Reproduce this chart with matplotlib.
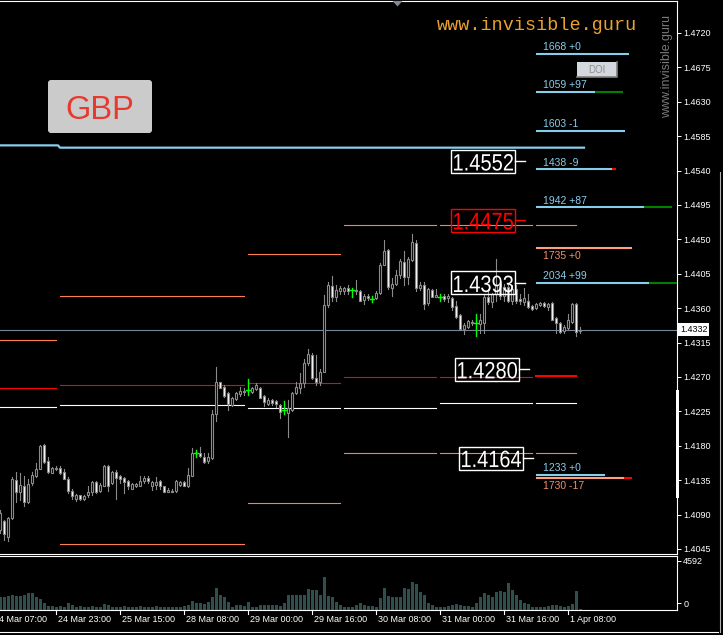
import matplotlib
matplotlib.use("Agg")
import matplotlib.pyplot as plt
from matplotlib.patches import Rectangle, FancyBboxPatch, Polygon, PathPatch
from matplotlib.lines import Line2D
from matplotlib.textpath import TextPath
from matplotlib.font_manager import FontProperties
from matplotlib.transforms import IdentityTransform, Affine2D
import numpy as np

plt.rcParams['font.family'] = ['Liberation Sans', 'DejaVu Sans']

# GBPUSD H1 bars, bar 0 = first (half visible) bar at the left edge
opens = [1.4070, 1.4081, 1.4061, 1.4085, 1.4135, 1.4120, 1.4128, 1.4106, 1.4131, 1.4140,
         1.4150, 1.4181, 1.4160, 1.4145, 1.4150, 1.4151, 1.4146, 1.4137, 1.4121, 1.4111,
         1.4115, 1.4111, 1.4115, 1.4120, 1.4132, 1.4121, 1.4128, 1.4154, 1.4131, 1.4146,
         1.4141, 1.4138, 1.4134, 1.4124, 1.4127, 1.4128, 1.4134, 1.4138, 1.4128, 1.4129,
         1.4134, 1.4127, 1.4120, 1.4121, 1.4121, 1.4129, 1.4133, 1.4127, 1.4141, 1.4171,
         1.4170, 1.4166, 1.4160, 1.4164, 1.4222, 1.4263, 1.4257, 1.4249, 1.4233, 1.4241,
         1.4248, 1.4252, 1.4253, 1.4250, 1.4254, 1.4256, 1.4245, 1.4235, 1.4240, 1.4239,
         1.4233, 1.4227, 1.4223, 1.4227, 1.4249, 1.4255, 1.4262, 1.4288, 1.4299, 1.4269,
         1.4264, 1.4277, 1.4364, 1.4389, 1.4374, 1.4382, 1.4383, 1.4387, 1.4384, 1.4382,
         1.4383, 1.4371, 1.4376, 1.4372, 1.4373, 1.4380, 1.4417, 1.4436, 1.4387, 1.4392,
         1.4404, 1.4420, 1.4401, 1.4423, 1.4445, 1.4386, 1.4391, 1.4367, 1.4384, 1.4375,
         1.4375, 1.4376, 1.4373, 1.4373, 1.4363, 1.4351, 1.4333, 1.4336, 1.4342, 1.4341,
         1.4339, 1.4341, 1.4375, 1.4368, 1.4378, 1.4390, 1.4376, 1.4388, 1.4370, 1.4385,
         1.4372, 1.4368, 1.4369, 1.4363, 1.4360, 1.4364, 1.4367, 1.4362, 1.4367, 1.4347,
         1.4341, 1.4330, 1.4334, 1.4342, 1.4365, 1.4330]
highs = [1.4096, 1.4083, 1.4087, 1.4139, 1.4146, 1.4144, 1.4140, 1.4137, 1.4146, 1.4157,
         1.4181, 1.4182, 1.4165, 1.4152, 1.4154, 1.4153, 1.4150, 1.4139, 1.4124, 1.4117,
         1.4116, 1.4116, 1.4128, 1.4134, 1.4134, 1.4131, 1.4155, 1.4155, 1.4147, 1.4148,
         1.4142, 1.4139, 1.4135, 1.4131, 1.4131, 1.4141, 1.4140, 1.4140, 1.4134, 1.4139,
         1.4135, 1.4128, 1.4125, 1.4123, 1.4135, 1.4134, 1.4134, 1.4151, 1.4177, 1.4174,
         1.4178, 1.4170, 1.4171, 1.4227, 1.4283, 1.4264, 1.4259, 1.4250, 1.4244, 1.4250,
         1.4257, 1.4255, 1.4267, 1.4257, 1.4262, 1.4257, 1.4246, 1.4242, 1.4241, 1.4240,
         1.4235, 1.4239, 1.4240, 1.4250, 1.4264, 1.4275, 1.4294, 1.4306, 1.4301, 1.4299,
         1.4281, 1.4377, 1.4394, 1.4402, 1.4390, 1.4389, 1.4388, 1.4390, 1.4387, 1.4397,
         1.4384, 1.4378, 1.4379, 1.4376, 1.4382, 1.4419, 1.4449, 1.4437, 1.4399, 1.4410,
         1.4425, 1.4435, 1.4427, 1.4457, 1.4449, 1.4394, 1.4394, 1.4387, 1.4385, 1.4385,
         1.4379, 1.4378, 1.4379, 1.4375, 1.4369, 1.4353, 1.4340, 1.4345, 1.4345, 1.4352,
         1.4353, 1.4377, 1.4385, 1.4380, 1.4425, 1.4396, 1.4392, 1.4393, 1.4390, 1.4390,
         1.4378, 1.4386, 1.4379, 1.4364, 1.4367, 1.4368, 1.4368, 1.4367, 1.4368, 1.4349,
         1.4342, 1.4338, 1.4353, 1.4367, 1.4367, 1.4335]
lows = [1.4066, 1.4057, 1.4056, 1.4084, 1.4107, 1.4109, 1.4101, 1.4105, 1.4129, 1.4139,
        1.4149, 1.4158, 1.4144, 1.4144, 1.4148, 1.4143, 1.4136, 1.4118, 1.4111, 1.4108,
        1.4109, 1.4109, 1.4113, 1.4115, 1.4118, 1.4120, 1.4127, 1.4121, 1.4130, 1.4111,
        1.4131, 1.4118, 1.4124, 1.4123, 1.4126, 1.4127, 1.4131, 1.4131, 1.4122, 1.4124,
        1.4123, 1.4119, 1.4119, 1.4119, 1.4120, 1.4128, 1.4127, 1.4126, 1.4140, 1.4166,
        1.4166, 1.4157, 1.4157, 1.4163, 1.4213, 1.4255, 1.4244, 1.4227, 1.4232, 1.4240,
        1.4245, 1.4246, 1.4246, 1.4249, 1.4253, 1.4242, 1.4232, 1.4234, 1.4234, 1.4231,
        1.4216, 1.4222, 1.4192, 1.4226, 1.4248, 1.4249, 1.4257, 1.4286, 1.4268, 1.4259,
        1.4259, 1.4276, 1.4362, 1.4369, 1.4369, 1.4379, 1.4379, 1.4379, 1.4375, 1.4379,
        1.4369, 1.4366, 1.4371, 1.4368, 1.4372, 1.4378, 1.4416, 1.4385, 1.4376, 1.4390,
        1.4400, 1.4391, 1.4392, 1.4422, 1.4382, 1.4384, 1.4359, 1.4364, 1.4374, 1.4374,
        1.4369, 1.4369, 1.4368, 1.4358, 1.4347, 1.4331, 1.4326, 1.4334, 1.4338, 1.4324,
        1.4328, 1.4327, 1.4365, 1.4362, 1.4370, 1.4372, 1.4370, 1.4368, 1.4365, 1.4367,
        1.4366, 1.4364, 1.4360, 1.4358, 1.4359, 1.4363, 1.4362, 1.4357, 1.4344, 1.4328,
        1.4327, 1.4327, 1.4331, 1.4341, 1.4323, 1.4328]
closes = [1.4092, 1.4064, 1.4086, 1.4136, 1.4119, 1.4129, 1.4106, 1.4130, 1.4142, 1.4150,
          1.4180, 1.4159, 1.4146, 1.4151, 1.4151, 1.4145, 1.4137, 1.4121, 1.4114, 1.4115,
          1.4110, 1.4114, 1.4120, 1.4133, 1.4120, 1.4129, 1.4154, 1.4128, 1.4146, 1.4138,
          1.4136, 1.4132, 1.4127, 1.4130, 1.4130, 1.4134, 1.4138, 1.4134, 1.4132, 1.4133,
          1.4127, 1.4120, 1.4122, 1.4120, 1.4134, 1.4133, 1.4128, 1.4142, 1.4170, 1.4171,
          1.4167, 1.4159, 1.4165, 1.4222, 1.4263, 1.4256, 1.4245, 1.4235, 1.4242, 1.4249,
          1.4252, 1.4251, 1.4253, 1.4256, 1.4259, 1.4243, 1.4237, 1.4240, 1.4236, 1.4235,
          1.4224, 1.4227, 1.4229, 1.4249, 1.4257, 1.4262, 1.4288, 1.4300, 1.4269, 1.4264,
          1.4277, 1.4364, 1.4390, 1.4375, 1.4384, 1.4386, 1.4386, 1.4383, 1.4384, 1.4384,
          1.4370, 1.4376, 1.4373, 1.4372, 1.4380, 1.4417, 1.4435, 1.4388, 1.4392, 1.4404,
          1.4422, 1.4401, 1.4425, 1.4446, 1.4387, 1.4390, 1.4366, 1.4385, 1.4375, 1.4377,
          1.4375, 1.4372, 1.4376, 1.4362, 1.4349, 1.4333, 1.4338, 1.4343, 1.4340, 1.4341,
          1.4345, 1.4375, 1.4368, 1.4378, 1.4390, 1.4376, 1.4388, 1.4370, 1.4385, 1.4370,
          1.4370, 1.4373, 1.4361, 1.4359, 1.4365, 1.4367, 1.4363, 1.4366, 1.4345, 1.4341,
          1.4329, 1.4336, 1.4345, 1.4365, 1.4329, 1.4332]
volumes = [1250, 1250, 1340, 1435, 1280, 1280, 1435, 1620, 1620, 1250,
           1030, 690, 375, 375, 250, 375, 310, 690, 435, 310,
           375, 250, 310, 375, 250, 310, 560, 500, 310, 310,
           310, 375, 310, 250, 310, 405, 310, 250, 250, 405,
           310, 250, 250, 250, 310, 310, 405, 500, 875, 690,
           690, 560, 720, 1250, 2030, 1435, 1250, 720, 310, 500,
           435, 375, 780, 310, 310, 500, 500, 500, 435, 500,
           375, 655, 1435, 1435, 1375, 1375, 1375, 1935, 1870, 1870,
           1435, 3120, 1340, 1185, 720, 500, 310, 250, 310, 500,
           625, 435, 405, 375, 250, 1090, 2030, 1310, 1250, 1185,
           1250, 2060, 1935, 2650, 2435, 1715, 1435, 625, 500, 250,
           250, 310, 375, 500, 560, 500, 375, 405, 310, 690,
           1185, 1620, 1375, 1250, 1655, 1810, 1715, 2500, 1870, 1435,
           935, 690, 560, 250, 250, 310, 310, 405, 500, 435,
           405, 310, 405, 560, 1745, 60]

time_bars = [-2, 14, 30, 46, 62, 78, 94, 110, 126, 142]
time_labels = ['24 Mar 07:00', '24 Mar 23:00', '25 Mar 15:00', '28 Mar 08:00', '29 Mar 00:00',
               '29 Mar 16:00', '30 Mar 08:00', '31 Mar 00:00', '31 Mar 16:00', '1 Apr 08:00']
price_ticks = [1.4720, 1.4675, 1.4630, 1.4585, 1.4540, 1.4495, 1.4450, 1.4405,
               1.4360, 1.4315, 1.4270, 1.4225, 1.4180, 1.4135, 1.4090, 1.4045]
bid = 1.4332
vol_max = 4592

# daily levels (one segment per trading day)
day_start = [-1, 15, 62, 86, 110, 134]
day_end = [14, 61, 85, 109, 133, 144]
lvl_top = [1.4318, 1.4376, 1.4431, 1.4469, 1.4469, 1.4469]
lvl_red = [1.4255, 1.4260, 1.4262, 1.4270, 1.4270, 1.4271]
lvl_white = [1.4231, 1.4234, 1.4229, 1.4229, 1.4236, 1.4236]
lvl_bot = [np.nan, 1.4051, 1.4105, 1.4171, 1.4171, 1.4171]

big_level = [1.4573, 1.4570]

box_vals = [1.4552, 1.4475, 1.4393, 1.4280, 1.4164]
box_cols = ['white', '#FF0000', 'white', 'white', 'white']

# option levels: open interest and change
oi_price = [1.4693, 1.4643, 1.4592, 1.4542, 1.4492, 1.4439, 1.4393, 1.4142, 1.4138]
oi_value = [1668, 1059, 1603, 1438, 1942, 1735, 2034, 1233, 1730]
oi_change = [0, 97, -1, -9, 87, 0, 99, 0, -17]
oi_kind = ['c', 'c', 'c', 'c', 'c', 'p', 'c', 'c', 'p']

W, H = 723, 635
fig = plt.figure(figsize=(W / 100, H / 100), dpi=100, facecolor='black')
PIX = IdentityTransform()
ppp = (549 - 33) / (1.4720 - 1.4045)   # pixels per price unit


def row(y):
    return H - y


def narrow_text(s, cx, cy, color, w=59.0, h=16.7):
    # squeezed text, like the narrow font of the terminal
    tp = TextPath((0, 0), s, size=24, prop=FontProperties(family='Liberation Sans'))
    e = tp.get_extents()
    tr = (Affine2D().translate(-e.x0 - e.width / 2, -e.y0 - e.height / 2)
          .scale(w / e.width, h / e.height).translate(cx, cy))
    fig.add_artist(PathPatch(tp, transform=tr + PIX, fc=color, ec='none', zorder=4))


def segs(x0s, x1s, ys):
    # several horizontal pieces joined by NaN gaps, so they stay pixel-sharp
    xs, yy = [], []
    for a, b, y in zip(x0s, x1s, ys):
        xs += [a, b, np.nan]
        yy += [y, y, np.nan]
    return xs, yy


ax = fig.add_axes([0, row(554) / H, 677 / W, 553 / H])
axv = fig.add_axes([0, row(610) / H, 677 / W, 54 / H])
for a in (ax, axv):
    a.set_facecolor('black')
    a.set_xlim(0, 677 / 4)
    for s in a.spines.values():
        s.set_color('white')
        s.set_linewidth(0.8)
    a.spines['left'].set_visible(False)
    a.tick_params(axis='x', bottom=False, labelbottom=False)
    a.yaxis.tick_right()
    a.tick_params(axis='y', colors='white', labelsize=6.5, length=3, width=0.7, pad=1.5)
ax.set_ylim(1.4045 - 5 / ppp, 1.4720 + 32 / ppp)
ax.set_yticks(price_ticks)
ax.set_yticklabels([f'{p:.4f}' for p in price_ticks])

# candles
k = np.arange(len(opens))
o = np.array(opens); hi = np.array(highs); lo = np.array(lows); c = np.array(closes)
doji = o == c
up = c > o
dn = c < o
wx, wy = [], []
for i in k[~doji]:
    wx += [i, i, np.nan]
    wy += [lo[i], hi[i], np.nan]
ax.plot(wx, wy, color='#8A8A8A', lw=0.8, zorder=3)
gx, gy = [], []
for i in k[doji]:
    gx += [i, i, np.nan, i - 0.4, i + 0.4, np.nan]
    gy += [lo[i], hi[i], np.nan, o[i], o[i], np.nan]
ax.plot(gx, gy, color='#00FF00', lw=1.0, zorder=3)
ax.bar(k[up], (c - o)[up], bottom=o[up], width=0.55, color='black', edgecolor='#8A8A8A', lw=0.8, zorder=4)
ax.bar(k[dn], (o - c)[dn], bottom=c[dn], width=0.55, color='white', edgecolor='#8A8A8A', lw=0.8, zorder=4)

# day levels
ax.plot(*segs(day_start, day_end, lvl_top), color='#FF7F50', lw=0.8, zorder=1)
ax.plot(*segs(day_start, day_end, lvl_bot), color='#FF7F50', lw=0.8, zorder=1)
ax.plot(*segs(day_start[:-1], day_end[:-1], lvl_red[:-1]), color='#FF0000', lw=0.8, zorder=1)
ax.plot(*segs(day_start[-1:], day_end[-1:], lvl_red[-1:]), color='#FF0000', lw=1.5, zorder=1)
ax.plot(*segs(day_start, day_end, lvl_white), color='white', lw=0.8, zorder=1)

ax.plot([-1, 14.5, 15, len(opens)], [big_level[0], big_level[0], big_level[1], big_level[1]],
        color='#87CEEB', lw=1.6, zorder=2)
ax.axhline(bid, color='#778899', lw=0.8, zorder=1)

# boxed levels
box_left = [451, 451, 451, 455, 459]
for v, col, xl in zip(box_vals, box_cols, box_left):
    x0, wd, hh = xl / 4, 64 / 4, 23 / ppp
    ax.add_patch(Rectangle((x0, v - hh / 2), wd, hh, fill=False, ec=col, lw=1, zorder=6))
    ax.plot([x0 + wd, x0 + wd + 2.5], [v, v], color=col, lw=1, zorder=6)
    cx, cy = ax.transData.transform((x0 + wd / 2, v))
    narrow_text(f'{v:.4f}', cx + 0.5, cy - 0.9, col)

# open interest levels
for p, val, chg, kind in zip(oi_price, oi_value, oi_change, oi_kind):
    base = '#87CEEB' if kind == 'c' else '#FFA07A'
    x0 = 134
    x1 = x0 + val / 72
    if chg < 0:
        xr = x1 - abs(chg) * 0.12
        ax.plot([x0, xr], [p, p], color=base, lw=1.5, zorder=5, solid_capstyle='butt')
        ax.plot([xr, x1], [p, p], color='#FF0000', lw=1.5, zorder=5, solid_capstyle='butt')
    else:
        ax.plot([x0, x1], [p, p], color=base, lw=1.5, zorder=5, solid_capstyle='butt')
        if chg > 0:
            ax.plot([x1, x1 + 7], [p, p], color='#008000', lw=1.5, zorder=5, solid_capstyle='butt')
    dy = 3.5 if kind == 'c' else -11
    ax.annotate(f'{val} {chg:+d}', (135.75, p), xytext=(0, dy), textcoords='offset pixels',
                ha='left', va='baseline', fontsize=7.5,
                color='#87CEEB' if kind == 'c' else '#F0906A', zorder=7)

# volume panel
axv.bar(k, volumes, width=0.75, color='#2F4F4F')
axv.set_ylim(0, 5050)
axv.set_yticks([650, vol_max])
axv.set_yticklabels(['0', str(vol_max)])

# time axis
for kb, lab in zip(time_bars, time_labels):
    xp = axv.transData.transform((kb, 0))[0]
    fig.add_artist(Line2D([xp, xp], [row(610), row(614)], color='white', lw=0.8, transform=PIX))
    fig.text(xp + 1.5, row(619.5), lab, color='white', fontsize=6.5, ha='left', va='center', transform=PIX)

# bid price tag
yb = ax.transData.transform((0, bid))[1]
fig.text(680, yb, f'{bid:.4f}', color='black', fontsize=6.5, ha='left', va='center', transform=PIX,
         bbox=dict(boxstyle='square,pad=0.2', fc='white', ec='none'))

# decorations
fig.add_artist(FancyBboxPatch((48, row(133)), 104, 53, boxstyle='round,pad=0,rounding_size=3',
                              fc='#CBCBCB', ec='none', transform=PIX))
fig.text(100, row(119), 'GBP', color='#E8392E', fontsize=23.5, ha='center', va='baseline', transform=PIX)
fig.text(537, row(26), 'www.invisible.guru', color='#E9A131', fontsize=13.3, ha='center', va='center',
         family=['Liberation Mono', 'DejaVu Sans Mono'], transform=PIX)
fig.text(667.5, row(66), 'www.invisible.guru', color='#7A7A7A', fontsize=9, rotation=90,
         ha='center', va='center', transform=PIX)
fig.add_artist(Rectangle((577, row(77)), 40, 15, fc='#D4D8DE', ec='none', transform=PIX))
fig.add_artist(Line2D([577, 617, 617], [row(77), row(77), row(62)], color='#808080', lw=1.2, transform=PIX))
fig.text(597, row(70), 'DOI', color='#8C8C8C', fontsize=7, ha='center', va='center', transform=PIX)
fig.add_artist(Polygon([(392.5, row(1)), (402.5, row(1)), (397.5, row(6.5))], closed=True,
                       fc='#7F8890', ec='none', transform=PIX))
fig.add_artist(Rectangle((675.5, row(498)), 3.5, 108, fc='white', ec='none', transform=PIX))
fig.add_artist(Line2D([0, 718], [row(632), row(632)], color='white', lw=0.8, transform=PIX))
fig.add_artist(Line2D([719.5, 719.5], [row(172), row(632)], color='#B0B0B0', lw=0.8, transform=PIX))

fig.savefig('out.png', dpi=100, facecolor='black')
